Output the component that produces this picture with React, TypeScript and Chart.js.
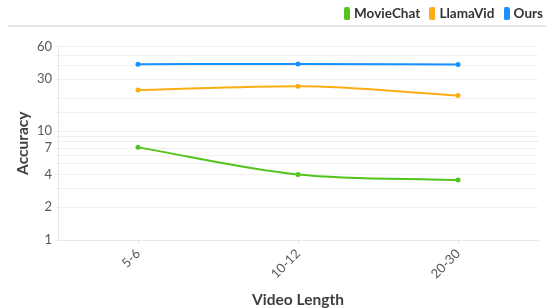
import React, { useEffect, useRef } from "react";
import { Chart, registerables } from "chart.js";

Chart.register(...registerables);

const categories = ["5-6", "10-12", "20-30"];
const movieChat = [7.1, 4.0, 3.55];
const llamaVid = [23.9, 25.9, 21.3];
const ours = [41.2, 41.5, 41.0];
const shownTicks = [1, 2, 4, 7, 10, 30, 60];
const seriesColors = ["#52c41a", "#faad14", "#1890ff"];

const FONT = "Lato, 'Open Sans', sans-serif";

function makeSwatch(color: string) {
  const c = document.createElement("canvas");
  c.width = 6;
  c.height = 13;
  const ctx = c.getContext("2d")!;
  ctx.fillStyle = color;
  ctx.beginPath();
  (ctx as any).roundRect(0, 0, 6, 13, 2);
  ctx.fill();
  return c;
}

const topLine = {
  id: "topLine",
  beforeDraw(chart: any) {
    const ctx = chart.ctx;
    ctx.save();
    ctx.strokeStyle = "#e6e6e6";
    ctx.lineWidth = 2;
    ctx.beginPath();
    ctx.moveTo(8, 26);
    ctx.lineTo(chart.width, 26);
    ctx.stroke();
    ctx.restore();
  },
};

const legendGap = {
  id: "legendGap",
  beforeInit(chart: any) {
    const orig = chart.legend.fit;
    chart.legend.fit = function () {
      orig.bind(chart.legend)();
      this.height += 11;
    };
  },
  afterLayout(chart: any) {
    chart.legend.top -= 5;
  },
};

export default function App() {
  const ref = useRef<HTMLCanvasElement>(null);
  useEffect(() => {
    const swatches = seriesColors.map(makeSwatch);
    const chart = new Chart(ref.current!, {
      type: "line",
      data: {
        labels: categories,
        datasets: [
          { label: "MovieChat", data: movieChat, borderColor: seriesColors[0], backgroundColor: seriesColors[0] },
          { label: "LlamaVid", data: llamaVid, borderColor: seriesColors[1], backgroundColor: seriesColors[1] },
          { label: "Ours", data: ours, borderColor: seriesColors[2], backgroundColor: seriesColors[2] },
        ],
      },
      plugins: [topLine, legendGap],
      options: {
        animation: false,
        responsive: false,
        maintainAspectRatio: false,
        layout: { padding: { left: 10, right: 0, top: 0, bottom: 0 } },
        elements: {
          line: { borderWidth: 2, cubicInterpolationMode: "monotone" },
          point: { radius: 2.5, borderWidth: 0 },
        },
        plugins: {
          legend: {
            position: "top",
            align: "end",
            labels: {
              usePointStyle: true,
              pointStyleWidth: 0.5,
              boxHeight: 13,
              padding: 12,
              color: "#333",
              font: { family: FONT, size: 13.5, weight: "bold" },
              generateLabels(chart: any) {
                const items = Chart.defaults.plugins.legend.labels.generateLabels(chart);
                items.forEach((it: any, i: number) => {
                  it.pointStyle = swatches[i];
                });
                return items;
              },
            },
          },
          tooltip: { enabled: false },
        },
        scales: {
          x: {
            offset: true,
            grid: { drawOnChartArea: false, tickLength: 4, color: "#e0e0e0" },
            border: { color: "#e8e8e8" },
            ticks: {
              minRotation: 45,
              maxRotation: 45,
              padding: 2,
              color: "#595959",
              font: { family: FONT, size: 13 },
            },
            title: {
              display: true,
              text: "Video Length",
              color: "#404040",
              font: { family: FONT, size: 15.5, weight: "bold" },
            },
            afterFit(scale: any) {
              scale.height = 73;
            },
          },
          y: {
            type: "logarithmic",
            min: 1,
            max: 60,
            grid: { color: "#f0f0f0", tickLength: 3 },
            border: { color: "#e8e8e8" },
            ticks: {
              autoSkip: false,
              padding: 3,
              color: "#595959",
              font: { family: FONT, size: 13 },
              callback: (v: any) => (shownTicks.includes(Number(v)) ? String(v) : ""),
            },
            title: {
              display: true,
              text: "Accuracy",
              color: "#404040",
              font: { family: FONT, size: 15.5, weight: "bold" },
            },
            afterFit(scale: any) {
              scale.width = 48;
            },
          },
          yRight: {
            position: "right",
            display: true,
            grid: { display: false },
            border: { display: false },
            ticks: { display: false },
            afterFit(scale: any) {
              scale.width = 17;
            },
          },
        },
      } as any,
    });
    return () => chart.destroy();
  }, []);
  return (
    <div style={{ position: "fixed", left: 0, top: 0, width: 546, height: 308, overflow: "hidden" }}>
      <canvas ref={ref} width={555} height={313} style={{ width: 555, height: 313 }} />
    </div>
  );
}
